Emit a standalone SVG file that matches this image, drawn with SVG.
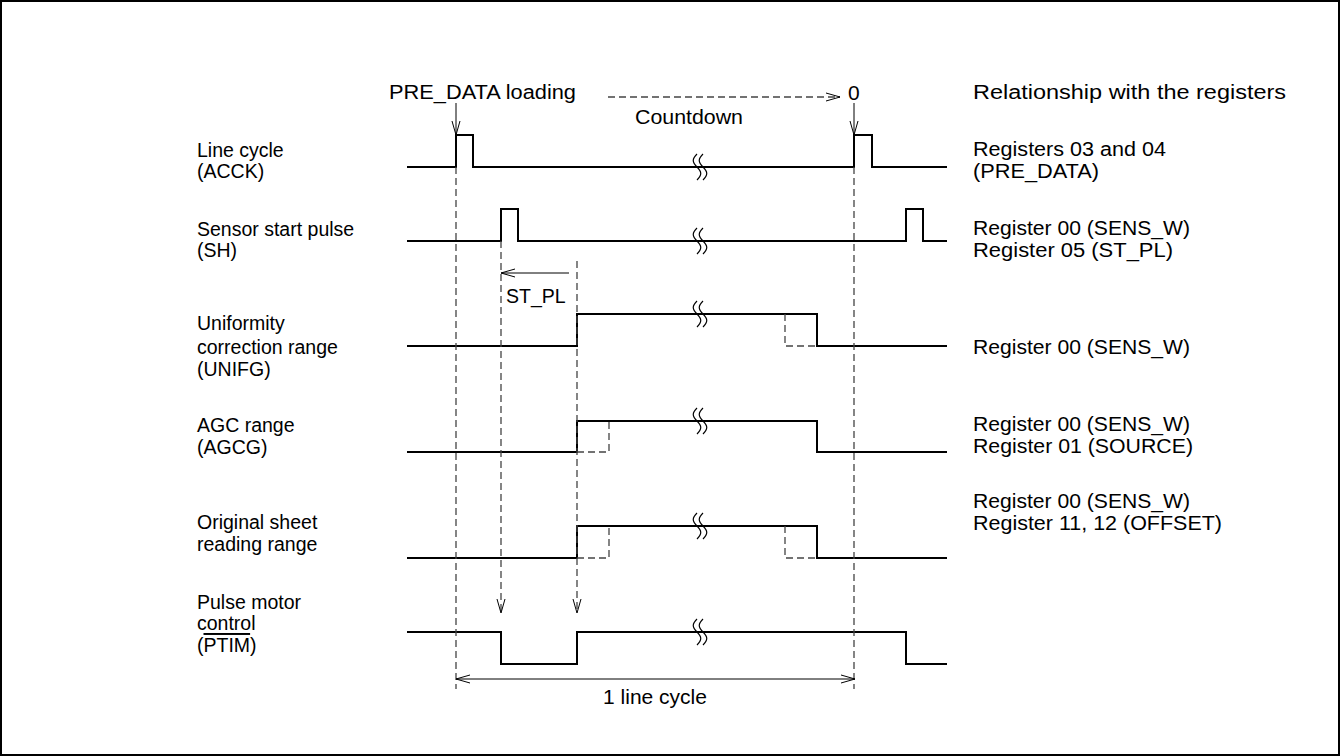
<svg xmlns="http://www.w3.org/2000/svg" width="1340" height="756" viewBox="0 0 1340 756">
<defs>
<marker id="ah" viewBox="0 0 14 10" refX="14" refY="5" markerWidth="14" markerHeight="10" markerUnits="userSpaceOnUse" orient="auto-start-reverse">
<path d="M0,1 L14,5 L0,9" fill="none" stroke="#000" stroke-width="1"/>
</marker>
</defs>
<style>
text{font-family:"Liberation Sans",Arial,sans-serif;font-size:19.5px;fill:#000}
text.r{font-size:20px}
.w{fill:none;stroke:#000;stroke-width:2}
.d{fill:none;stroke:#444;stroke-width:1.3;stroke-dasharray:7,4}
.a{fill:none;stroke:#000;stroke-width:1}
.br{fill:none;stroke:#000;stroke-width:1.2}
</style>
<rect x="1" y="1" width="1338" height="754" fill="#fff" stroke="#000" stroke-width="2"/>
<g id="header">
<text class="r" x="389" y="99" textLength="187" lengthAdjust="spacingAndGlyphs">PRE_DATA loading</text>
<text class="r" x="635" y="124" textLength="108" lengthAdjust="spacingAndGlyphs">Countdown</text>
<text class="r" x="848" y="100" style="font-size:21px">0</text>
<text class="r" x="973" y="99" textLength="313" lengthAdjust="spacingAndGlyphs">Relationship with the registers</text>
</g>
<g id="acck">
<text x="197" y="157">Line cycle</text>
<text x="197" y="178">(ACCK)</text>
<polyline class="w" points="407,167 456,167 456,135 473,135 473,167 854,167 854,135 872,135 872,167 947,167"/>
<text class="r" x="973" y="156" textLength="193" lengthAdjust="spacingAndGlyphs">Registers 03 and 04</text>
<text class="r" x="973" y="178" textLength="126" lengthAdjust="spacingAndGlyphs">(PRE_DATA)</text>
</g>
<g id="sh">
<text x="197" y="236">Sensor start pulse</text>
<text x="197" y="257">(SH)</text>
<polyline class="w" points="407,241 501,241 501,209 518,209 518,241 906,241 906,209 923,209 923,241 947,241"/>
<text class="r" x="973" y="235" textLength="217" lengthAdjust="spacingAndGlyphs">Register 00 (SENS_W)</text>
<text class="r" x="973" y="257" textLength="200" lengthAdjust="spacingAndGlyphs">Register 05 (ST_PL)</text>
</g>
<g id="unifg">
<text x="197" y="330">Uniformity</text>
<text x="197" y="354">correction range</text>
<text x="197" y="376">(UNIFG)</text>
<polyline class="w" points="407,346 577,346 577,314 817,314 817,346 947,346"/>
<polyline class="d" points="785,314 785,346 817,346"/>
<text class="r" x="973" y="354" textLength="217" lengthAdjust="spacingAndGlyphs">Register 00 (SENS_W)</text>
</g>
<g id="agcg">
<text x="197" y="432">AGC range</text>
<text x="197" y="454">(AGCG)</text>
<polyline class="w" points="407,452 577,452 577,421 817,421 817,452 947,452"/>
<polyline class="d" points="577,452 609,452 609,421"/>
<text class="r" x="973" y="431" textLength="217" lengthAdjust="spacingAndGlyphs">Register 00 (SENS_W)</text>
<text class="r" x="973" y="453" textLength="220" lengthAdjust="spacingAndGlyphs">Register 01 (SOURCE)</text>
</g>
<g id="sheet">
<text x="197" y="529">Original sheet</text>
<text x="197" y="551">reading range</text>
<polyline class="w" points="407,558 577,558 577,526 817,526 817,558 947,558"/>
<polyline class="d" points="577,558 609,558 609,526"/>
<polyline class="d" points="785,526 785,558 817,558"/>
<text class="r" x="973" y="508" textLength="217" lengthAdjust="spacingAndGlyphs">Register 00 (SENS_W)</text>
<text class="r" x="973" y="530" textLength="249" lengthAdjust="spacingAndGlyphs">Register 11, 12 (OFFSET)</text>
</g>
<g id="ptim">
<text x="197" y="609">Pulse motor</text>
<text x="197" y="630">control</text>
<text x="197" y="652">(<tspan style="text-decoration:overline">PTIM</tspan>)</text>
<polyline class="w" points="407,632 501,632 501,664 577,664 577,632 906,632 906,664 947,664"/>
</g>
<g id="breaks">
<path class="br" d="M697,154 C692,159 692,162 697,167 S702,175 697,180 M703,154 C698,159 698,162 703,167 S708,175 703,180"/>
<path class="br" d="M697,228 C692,233 692,236 697,241 S702,249 697,254 M703,228 C698,233 698,236 703,241 S708,249 703,254"/>
<path class="br" d="M697,301 C692,306 692,309 697,314 S702,322 697,327 M703,301 C698,306 698,309 703,314 S708,322 703,327"/>
<path class="br" d="M697,408 C692,413 692,416 697,421 S702,429 697,434 M703,408 C698,413 698,416 703,421 S708,429 703,434"/>
<path class="br" d="M697,513 C692,518 692,521 697,526 S702,534 697,539 M703,513 C698,518 698,521 703,526 S708,534 703,539"/>
<path class="br" d="M697,619 C692,624 692,627 697,632 S702,640 697,645 M703,619 C698,624 698,627 703,632 S708,640 703,645"/>
</g>
<g id="connectors">
<line class="a" x1="456" y1="103" x2="456" y2="135" marker-end="url(#ah)"/>
<line class="a" x1="854" y1="103" x2="854" y2="135" marker-end="url(#ah)"/>
<line class="d" x1="608" y1="97" x2="840" y2="97" marker-end="url(#ah)"/>
<line class="d" x1="456" y1="167" x2="456" y2="689"/>
<line class="d" x1="854" y1="167" x2="854" y2="689"/>
<line class="d" x1="501" y1="241" x2="501" y2="613" marker-end="url(#ah)"/>
<line class="d" x1="577" y1="261" x2="577" y2="613" marker-end="url(#ah)"/>
<line class="a" x1="569" y1="273" x2="501" y2="273" marker-end="url(#ah)"/>
<text x="506" y="303">ST_PL</text>
<line class="a" x1="456" y1="679" x2="855" y2="679" marker-start="url(#ah)" marker-end="url(#ah)"/>
<text x="655" y="704" text-anchor="middle" style="font-size:21px">1 line cycle</text>
</g>
</svg>
